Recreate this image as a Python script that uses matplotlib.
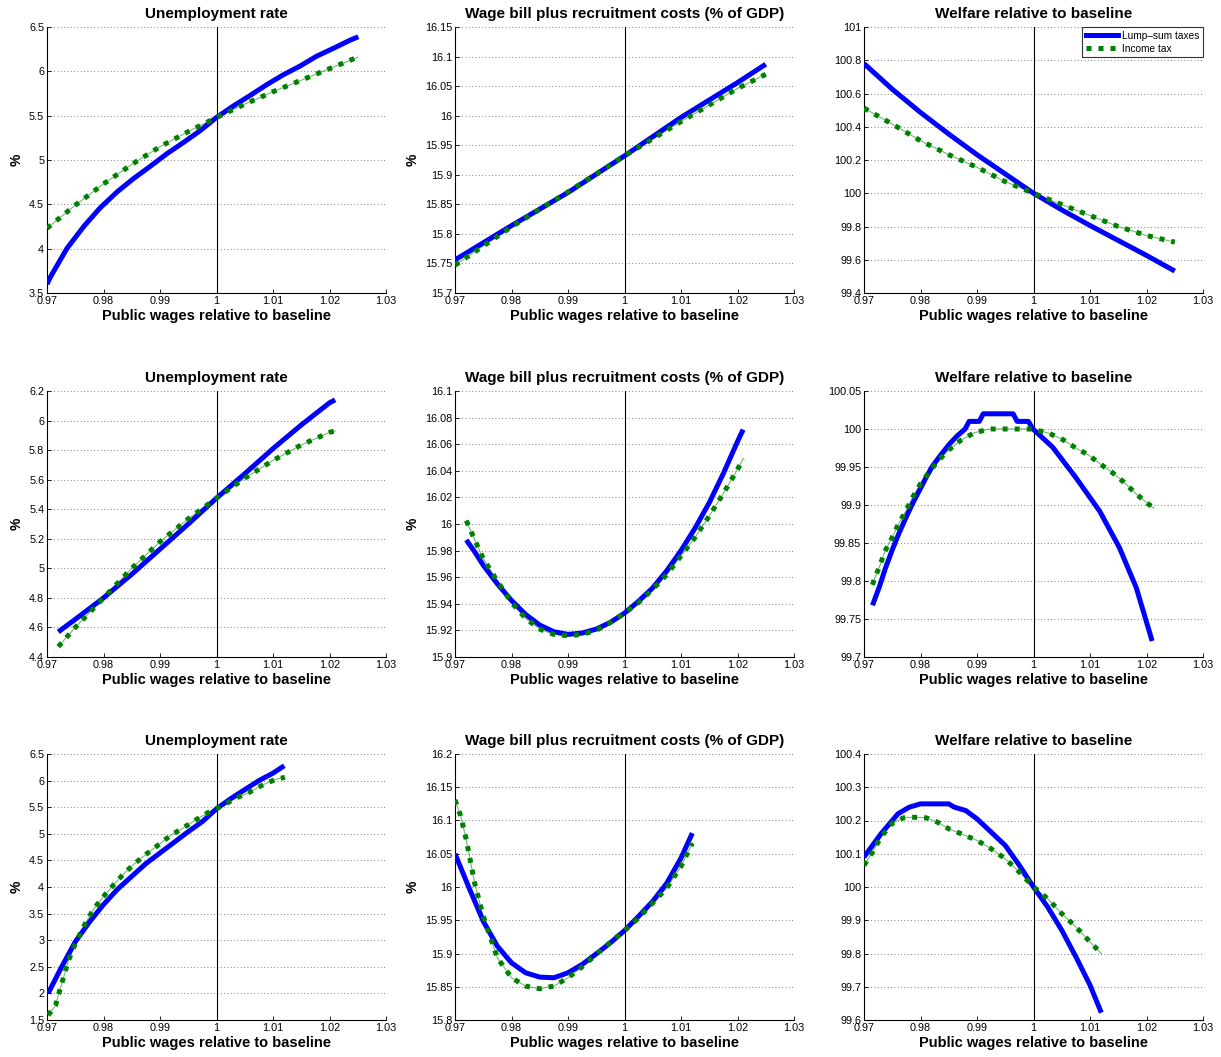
import matplotlib
matplotlib.use("Agg")
import matplotlib.pyplot as plt
from matplotlib.lines import Line2D

plt.rcParams['font.family'] = ['Liberation Sans', 'DejaVu Sans']

# ---- data (x = public wages relative to baseline) ----
# row 1
x_u1_lump = [0.970, 0.9706, 0.9735, 0.9765, 0.9794, 0.9824, 0.9853, 0.9883, 0.9912, 0.9942, 0.9971, 1.0000,
             1.0030, 1.0060, 1.0089, 1.0118, 1.0148, 1.0177, 1.0207, 1.0236, 1.0251]
u1_lump = [3.60, 3.68, 4.00, 4.25, 4.46, 4.64, 4.79, 4.93, 5.07, 5.20, 5.33, 5.48,
           5.61, 5.73, 5.85, 5.96, 6.06, 6.17, 6.26, 6.35, 6.39]
x_u1_inc = [0.970, 0.975, 0.980, 0.985, 0.990, 0.995, 1.000, 1.005, 1.010, 1.015, 1.020, 1.025]
u1_inc = [4.23, 4.49, 4.73, 4.95, 5.15, 5.32, 5.48, 5.63, 5.77, 5.90, 6.03, 6.16]

x_w1 = [0.970, 0.980, 0.990, 1.000, 1.010, 1.020, 1.025]
w1_lump = [15.756, 15.814, 15.870, 15.932, 15.997, 16.056, 16.087]
w1_inc = [15.747, 15.812, 15.871, 15.932, 15.990, 16.046, 16.070]

x_f1 = [0.970, 0.975, 0.980, 0.985, 0.990, 0.995, 1.000, 1.005, 1.010, 1.015, 1.020, 1.025]
f1_lump = [100.78, 100.626, 100.486, 100.356, 100.232, 100.116, 100.0, 99.90, 99.806, 99.716, 99.626, 99.532]
f1_inc = [100.512, 100.416, 100.316, 100.232, 100.156, 100.07, 100.0, 99.932, 99.866, 99.80, 99.746, 99.706]

# row 2
x_u2 = [0.972, 0.975, 0.980, 0.985, 0.990, 0.995, 1.000, 1.005, 1.010, 1.015, 1.020, 1.021]
u2_lump = [4.57, 4.655, 4.80, 4.96, 5.13, 5.30, 5.475, 5.64, 5.81, 5.97, 6.12, 6.14]
u2_inc = [4.47, 4.60, 4.80, 5.00, 5.18, 5.335, 5.475, 5.61, 5.73, 5.835, 5.92, 5.93]

x_w2 = [0.972, 0.9735, 0.975, 0.9775, 0.980, 0.9825, 0.985, 0.9875, 0.990, 0.9925, 0.995, 0.9975,
        1.000, 1.0025, 1.005, 1.0075, 1.010, 1.0125, 1.015, 1.0175, 1.020, 1.021]
w2_lump = [15.988, 15.979, 15.969, 15.955, 15.9425, 15.932, 15.924, 15.919, 15.917, 15.918, 15.921, 15.926,
           15.933, 15.942, 15.952, 15.965, 15.980, 15.997, 16.016, 16.038, 16.062, 16.071]
w2_inc = [16.0025, 15.988, 15.974, 15.957, 15.941, 15.929, 15.921, 15.917, 15.916, 15.917, 15.920, 15.926,
          15.933, 15.941, 15.951, 15.962, 15.976, 15.990, 16.006, 16.023, 16.041, 16.049]

x_f2_lump = [0.9715, 0.9727, 0.9738, 0.9750, 0.9762, 0.9774, 0.9786, 0.9798, 0.9809, 0.9821, 0.9836, 0.9851,
             0.9865, 0.9879, 0.9886, 0.9904, 0.9911, 0.9964, 0.9971, 0.9991, 0.9999,
             1.0034, 1.0075, 1.0117, 1.0152, 1.0182, 1.021]
f2_lump = [99.768, 99.792, 99.817, 99.841, 99.863, 99.883, 99.902, 99.919, 99.935, 99.951, 99.966, 99.980,
           99.991, 100.0, 100.01, 100.01, 100.02, 100.02, 100.01, 100.01, 100.0,
           99.976, 99.936, 99.892, 99.844, 99.791, 99.721]
x_f2_inc = [0.9715, 0.9718, 0.9728, 0.9737, 0.9749, 0.9761, 0.9774, 0.9786, 0.9800, 0.9815, 0.9832, 0.9851,
            0.9871, 0.9895, 0.9922, 0.9998, 1.0027, 1.0052, 1.0075, 1.0097, 1.0118, 1.0139, 1.0160,
            1.0181, 1.0202, 1.0213]
f2_inc = [99.795, 99.802, 99.820, 99.839, 99.856, 99.875, 99.892, 99.910, 99.928, 99.943, 99.959, 99.973,
          99.985, 99.995, 100.0, 100.0, 99.9945, 99.986, 99.975, 99.966, 99.954, 99.943, 99.930,
          99.915, 99.902, 99.896]

# row 3
x_u3_lump = [0.9702, 0.9725, 0.975, 0.9775, 0.980, 0.9825, 0.985, 0.9875, 0.990, 0.9925, 0.995, 0.9975,
             1.000, 1.0025, 1.005, 1.0075, 1.010, 1.012]
u3_lump = [2.00, 2.48, 2.97, 3.34, 3.67, 3.96, 4.20, 4.44, 4.64, 4.84, 5.04, 5.23,
           5.47, 5.66, 5.83, 6.00, 6.14, 6.28]
x_u3_inc = [0.9702, 0.9715, 0.9722, 0.9730, 0.9737, 0.9747, 0.9758, 0.9770, 0.9783, 0.9799, 0.9817, 0.9836,
            0.9855, 0.9876, 0.9897, 0.9919, 0.9941, 0.9963, 0.9987, 1.0011, 1.0034, 1.0058, 1.0082,
            1.0106, 1.0121]
u3_inc = [1.59, 1.77, 2.04, 2.325, 2.59, 2.86, 3.11, 3.36, 3.59, 3.81, 4.03, 4.25,
          4.44, 4.62, 4.79, 4.97, 5.11, 5.26, 5.41, 5.53, 5.67, 5.78, 5.92,
          6.03, 6.06]

x_w3_lump = [0.970, 0.9725, 0.975, 0.9775, 0.980, 0.9825, 0.985, 0.9875, 0.990, 0.9925, 0.995, 0.9975,
             1.000, 1.0025, 1.005, 1.0075, 1.010, 1.012]
w3_lump = [16.05, 15.9985, 15.9485, 15.911, 15.886, 15.871, 15.8645, 15.8635, 15.871, 15.8835, 15.8995, 15.916,
           15.9345, 15.956, 15.9785, 16.006, 16.0435, 16.081]
x_w3_inc = [0.970, 0.971, 0.972, 0.9735, 0.975, 0.9775, 0.980, 0.9825, 0.985, 0.9875, 0.990, 0.9925, 0.995,
            0.9975, 1.000, 1.0025, 1.005, 1.0075, 1.010, 1.012]
w3_inc = [16.131, 16.107, 16.071, 16.005, 15.956, 15.8935, 15.8635, 15.851, 15.847, 15.851, 15.8635, 15.880,
          15.8985, 15.917, 15.9345, 15.9535, 15.976, 15.9985, 16.031, 16.066]

x_f3_lump = [0.970, 0.9715, 0.973, 0.975, 0.976, 0.977, 0.978, 0.979, 0.980, 0.985, 0.986, 0.988, 0.990,
             0.9925, 0.995, 0.9975, 1.000, 1.0025, 1.005, 1.0075, 1.010, 1.012]
f3_lump = [100.09, 100.125, 100.16, 100.20, 100.22, 100.23, 100.24, 100.245, 100.25, 100.25, 100.24, 100.23,
           100.205, 100.165, 100.125, 100.065, 100.0, 99.94, 99.87, 99.79, 99.705, 99.622]
x_f3_inc = [0.970, 0.9715, 0.973, 0.975, 0.977, 0.9785, 0.981, 0.983, 0.985, 0.9875, 0.990, 0.9925, 0.995,
            0.9975, 1.000, 1.0025, 1.005, 1.0075, 1.010, 1.012]
f3_inc = [100.065, 100.105, 100.15, 100.192, 100.208, 100.21, 100.208, 100.195, 100.175, 100.158, 100.14,
          100.115, 100.085, 100.045, 100.0, 99.965, 99.92, 99.88, 99.835, 99.80]

x_ticks = [0.97, 0.98, 0.99, 1.0, 1.01, 1.02, 1.03]
x_ticklabels = ['0.97', '0.98', '0.99', '1', '1.01', '1.02', '1.03']

titles = ['Unemployment rate', 'Wage bill plus recruitment costs (% of GDP)', 'Welfare relative to baseline']

panels = [
    [(x_u1_lump, u1_lump, x_u1_inc, u1_inc, (3.5, 6.5), [3.5, 4, 4.5, 5, 5.5, 6, 6.5]),
     (x_w1, w1_lump, x_w1, w1_inc, (15.7, 16.15), [15.7, 15.75, 15.8, 15.85, 15.9, 15.95, 16, 16.05, 16.1, 16.15]),
     (x_f1, f1_lump, x_f1, f1_inc, (99.4, 101), [99.4, 99.6, 99.8, 100, 100.2, 100.4, 100.6, 100.8, 101])],
    [(x_u2, u2_lump, x_u2, u2_inc, (4.4, 6.2), [4.4, 4.6, 4.8, 5, 5.2, 5.4, 5.6, 5.8, 6, 6.2]),
     (x_w2, w2_lump, x_w2, w2_inc, (15.9, 16.1), [15.9, 15.92, 15.94, 15.96, 15.98, 16, 16.02, 16.04, 16.06, 16.08, 16.1]),
     (x_f2_lump, f2_lump, x_f2_inc, f2_inc, (99.7, 100.05), [99.7, 99.75, 99.8, 99.85, 99.9, 99.95, 100, 100.05])],
    [(x_u3_lump, u3_lump, x_u3_inc, u3_inc, (1.5, 6.5), [1.5, 2, 2.5, 3, 3.5, 4, 4.5, 5, 5.5, 6, 6.5]),
     (x_w3_lump, w3_lump, x_w3_inc, w3_inc, (15.8, 16.2), [15.8, 15.85, 15.9, 15.95, 16, 16.05, 16.1, 16.15, 16.2]),
     (x_f3_lump, f3_lump, x_f3_inc, f3_inc, (99.6, 100.4), [99.6, 99.7, 99.8, 99.9, 100, 100.1, 100.2, 100.3, 100.4])],
]

W, H = 1221, 1057
fig = plt.figure(figsize=(W / 100, H / 100), dpi=100)
fig.patch.set_facecolor('white')

col_left = [47, 455, 864]
row_top = [27, 391, 754]
ax_w, ax_h = 339, 266

blue = '#0000ff'
green = '#008000'
LW = 3.6
DASH = (1.0, 1.4)

for r in range(3):
    for c in range(3):
        xl, yl, xi, yi, ylim, yticks = panels[r][c]
        ax = fig.add_axes([col_left[c] / W, 1 - (row_top[r] + ax_h) / H, ax_w / W, ax_h / H])
        # thin underlay gives the dash-dot look of the income-tax line
        ax.plot(xi, yi, color=green, lw=0.8, alpha=0.55, zorder=2)
        ax.plot(xl, yl, color=blue, lw=LW, solid_capstyle='butt', solid_joinstyle='round', zorder=3)
        ax.plot(xi, yi, color=green, lw=LW, dashes=DASH, dash_capstyle='butt', zorder=4)
        ax.axvline(1.0, color='black', lw=0.8, zorder=1)

        ax.set_xlim(0.97, 1.03)
        ax.set_ylim(*ylim)
        ax.set_xticks(x_ticks)
        ax.set_xticklabels(x_ticklabels)
        ax.set_yticks(yticks)
        ax.set_yticklabels(['%g' % v for v in yticks])
        ax.tick_params(direction='in', length=3, width=0.6, labelsize=7.8, pad=2)
        ax.spines['top'].set_visible(False)
        ax.spines['right'].set_visible(False)
        ax.spines['left'].set_linewidth(0.8)
        ax.spines['bottom'].set_linewidth(0.8)
        ax.yaxis.grid(True, linestyle=(0, (1, 3)), color='#555555', lw=0.6)
        ax.set_axisbelow(True)

        ax.set_title(titles[c], fontsize=11, fontweight='bold', pad=6.5)
        ax.set_xlabel('Public wages relative to baseline', fontsize=10.5, fontweight='bold', labelpad=2)
        if c < 2:
            ax.set_ylabel('%', fontsize=10, fontweight='bold', labelpad=4)

        if r == 0 and c == 2:
            h1 = Line2D([], [], color=blue, lw=LW)
            h2 = Line2D([], [], color=green, lw=LW, dashes=DASH)
            leg = ax.legend([h1, h2], ['Lump\u2013sum taxes', 'Income tax'], loc='upper right',
                            fontsize=7.3, frameon=True, fancybox=False, edgecolor='black',
                            handlelength=3.2, borderpad=0.35, labelspacing=0.3, handletextpad=0.4,
                            borderaxespad=0.0)
            leg.get_frame().set_linewidth(0.8)

fig.savefig('out.png', dpi=100, facecolor='white')
